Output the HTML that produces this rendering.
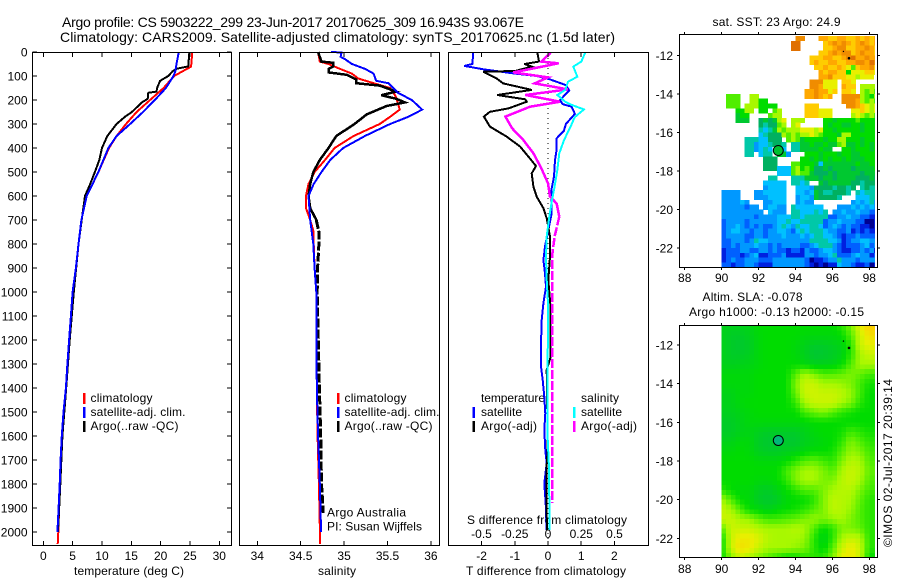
<!DOCTYPE html>
<html>
<head>
<meta charset="utf-8">
<title>Argo profile</title>
<style>
html,body{margin:0;padding:0;background:#fff;}
svg{display:block;}
text{font-family:"Liberation Sans",sans-serif;font-size:12px;fill:#000;}
.t{font-size:14px;}
</style>
</head>
<body>
<svg id="chart" width="900" height="580" viewBox="0 0 900 580" xmlns="http://www.w3.org/2000/svg">
<defs>
<clipPath id="clipA"><rect x="680" y="34" width="195" height="233"/></clipPath>
<clipPath id="clipB"><rect x="680" y="325" width="195" height="232"/></clipPath>
</defs>
<rect x="0" y="0" width="900" height="580" fill="#fff"/>
<text class="t" x="62" y="27" textLength="462" lengthAdjust="spacing">Argo profile: CS 5903222_299 23-Jun-2017 20170625_309 16.943S 93.067E</text>
<text class="t" x="60" y="42" textLength="555" lengthAdjust="spacing">Climatology: CARS2009. Satellite-adjusted climatology: synTS_20170625.nc (1.5d later)</text>

<text x="74" y="575" textLength="110" lengthAdjust="spacing">temperature (deg C)</text>
<text x="318" y="575" textLength="38" lengthAdjust="spacing">salinity</text>
<text x="466" y="575" textLength="160" lengthAdjust="spacing">T difference from climatology</text>
<text x="467" y="524" textLength="160" lengthAdjust="spacing">S difference from climatology</text>

<g>
<rect x="83" y="393" width="2.5" height="11" fill="#f00"/>
<rect x="83" y="407" width="2.5" height="11" fill="#00f"/>
<rect x="83" y="421" width="2.5" height="11" fill="#000"/>
<text x="90.5" y="402" textLength="62" lengthAdjust="spacing">climatology</text>
<text x="90.5" y="416" textLength="95" lengthAdjust="spacing">satellite-adj. clim.</text>
<text x="90.5" y="430" textLength="88" lengthAdjust="spacing">Argo(..raw -QC)</text>
</g>
<g>
<rect x="337" y="393" width="2.5" height="11" fill="#f00"/>
<rect x="337" y="407" width="2.5" height="11" fill="#00f"/>
<rect x="337" y="421" width="2.5" height="11" fill="#000"/>
<text x="344.5" y="402" textLength="62" lengthAdjust="spacing">climatology</text>
<text x="344.5" y="416" textLength="95" lengthAdjust="spacing">satellite-adj. clim.</text>
<text x="344.5" y="430" textLength="88" lengthAdjust="spacing">Argo(..raw -QC)</text>
</g>
<g>
<rect x="472.5" y="407" width="2.5" height="11" fill="#00f"/>
<rect x="472.5" y="421" width="2.5" height="11" fill="#000"/>
<rect x="573" y="407" width="2.5" height="11" fill="#0ff"/>
<rect x="573" y="421" width="2.5" height="11" fill="#f0f"/>
<text x="481" y="402" textLength="64" lengthAdjust="spacing">temperature</text>
<text x="481" y="416" textLength="41" lengthAdjust="spacing">satellite</text>
<text x="481" y="430" textLength="56" lengthAdjust="spacing">Argo(-adj)</text>
<text x="581" y="402" textLength="38" lengthAdjust="spacing">salinity</text>
<text x="581" y="416" textLength="41" lengthAdjust="spacing">satellite</text>
<text x="581" y="430" textLength="56" lengthAdjust="spacing">Argo(-adj)</text>
</g>

<text x="712.5" y="26" textLength="128" lengthAdjust="spacing">sat. SST: 23 Argo: 24.9</text>
<text x="702.5" y="301" textLength="100" lengthAdjust="spacing">Altim. SLA: -0.078</text>
<text x="689" y="316" textLength="175" lengthAdjust="spacing">Argo h1000: -0.13 h2000: -0.15</text>
<text transform="translate(892,547) rotate(-90)" x="0" y="0" textLength="168" lengthAdjust="spacing">©IMOS 02-Jul-2017 20:39:14</text>
<g id="layer"></g>
<text x="327" y="516.5" fill="#000" textLength="79" lengthAdjust="spacing">Argo Australia</text>
<text x="327" y="530.5" fill="#000" textLength="95" lengthAdjust="spacing">PI: Susan Wijffels</text>
</svg>
<script>
const _ = null;

// Tick labels
const depthTicks = [0,100,200,300,400,500,600,700,800,900,1000,1100,1200,1300,1400,1500,1600,1700,1800,1900,2000];
const tempTicks = [0,5,10,15,20,25,30];
const salTicks = [34,34.5,35,35.5,36];
const tDiffTicks = [-2,-1,0,1,2];
const sDiffTicks = [-0.5,-0.25,0,0.25,0.5];
const lonTicks = [88,90,92,94,96,98];
const latTicks = [-12,-14,-16,-18,-20,-22];

// Temperature profiles
const climTempDepth = [0,61,100,150,200,250,300,350,400,500,600,700,800,900,1000,1100,1200,1300,1400,1500,1600,1700,1800,1900,2000,2050];
const climTemp = [25.4,25.2,22.3,20.5,18.2,15.9,14.1,12.5,11.2,9.4,7.4,6.5,6.0,5.6,5.1,4.8,4.5,4.2,3.87,3.5,3.2,3.0,2.85,2.7,2.55,2.45];
const satTempDepth = [0,50,80,100,150,200,250,300,350,400,500,600,700,800,900,1000,1100,1200,1300,1400,1500,1600,1700,1800,1900,2000];
const satTemp = [23.1,22.7,22.5,22.2,20.9,19.0,17.0,14.8,12.5,11.1,9.4,7.4,6.5,6.0,5.55,5.0,4.7,4.4,4.1,3.85,3.45,3.15,2.95,2.8,2.6,2.4];
const argoTempDepth = [0,30,60,70,80,100,120,150,165,170,195,210,250,270,300,350,400,450,500,550,600,700,800,1000,1200,1400,1600,1800,2000];
const argoTemp = [24.9,24.8,24.7,22.7,22.05,21.3,19.9,19.4,19.3,17.9,17.8,16.8,15.1,13.9,12.5,10.9,10.0,9.55,8.8,8.0,7.1,6.55,6.0,5.2,4.5,3.9,3.25,2.9,2.5];

// Salinity profiles
const climSalDepth = [0,40,50,70,90,110,130,150,170,190,240,270,300,350,400,450,500,550,600,650,700,750,800,900,1000,1400,1600,1800,2050];
const climSal = [34.70,34.72,34.82,34.95,35.09,35.16,35.34,35.53,35.57,35.60,35.64,35.53,35.41,35.11,34.89,34.78,34.66,34.59,34.56,34.56,34.61,34.65,34.65,34.66,34.68,34.685,34.695,34.71,34.725];
const satSalDepth = [0,2,20,30,50,70,90,120,130,170,200,240,270,300,350,400,450,500,550,600,700,800,900,1000,1400,1600,1800,2000];
const satSal = [34.85,34.97,34.96,35.01,35.09,35.24,35.34,35.37,35.51,35.62,35.78,35.90,35.74,35.53,35.24,34.99,34.84,34.74,34.65,34.59,34.61,34.645,34.66,34.68,34.685,34.70,34.72,34.735];
const argoSalDepth = [0,20,40,45,60,70,85,95,115,130,140,165,180,195,210,225,260,300,350,400,450,500,550,600,650,700,750,800,900,1000,1400,1600,1800,1920];
const argoSal = [34.70,34.72,34.74,34.875,34.875,34.82,34.82,35.03,35.14,35.14,35.41,35.60,35.43,35.60,35.70,35.49,35.26,35.12,34.91,34.82,34.72,34.645,34.61,34.59,34.61,34.68,34.71,34.71,34.695,34.69,34.715,34.73,34.74,34.76];

// Difference profiles
const satTDiffDepth = [3,50,58,72,89,100,114,138,161,200,217,228,258,300,328,360,408,450,519,568,617,672,742,811,867,922,978,1047,1117,1214,1311,1367,1436,1506,1575,1658,1714,1797,1881,1992];
const satTDiff = [-2.25,-2.28,-2.52,-1.95,-1.04,-0.34,0.06,0.54,0.64,0.36,0.44,0.71,0.81,0.54,0.48,0.26,0.26,0.21,0.18,0.11,0.11,0.11,0.01,-0.09,-0.14,-0.09,-0.06,-0.14,-0.19,-0.21,-0.21,-0.16,-0.11,-0.08,-0.11,-0.08,-0.04,-0.11,-0.07,-0.04];
const argoTDiffDepth = [3,40,50,61,79,82,110,131,158,179,197,207,235,249,269,311,353,394,436,475,506,561,603,651,693,769,853,950,1050,1270,1325,1500,1658,1742,1839,1992];
const argoTDiff = [-0.32,-0.27,-0.71,-0.49,-0.99,-1.95,-1.55,-1.35,-0.49,-1.53,-0.69,-0.64,-1.19,-1.75,-1.93,-1.75,-1.24,-0.84,-0.59,-0.36,-0.49,-0.44,-0.34,-0.14,-0.04,0.06,0.06,0.01,0.07,0.08,-0.04,-0.02,-0.01,-0.05,-0.05,-0.03];
const satSDiffDepth = [3,40,61,103,124,158,179,207,221,239,272,311,367,422,492,561,617,686,769,853,950,1047,1186,1325,1464,1603,1742,1881,1992];
const satSDiff = [0.28,0.25,0.19,0.22,0.15,0.13,0.07,0.13,0.18,0.27,0.20,0.17,0.12,0.085,0.07,0.05,0.03,0.01,-0.01,-0.015,-0.01,0,0,-0.005,-0.005,-0.003,0.008,0.01,0.01];
const argoSDiffDepth = [3,40,47,85,106,131,156,179,207,228,269,318,367,422,485,547,603,631,686,769,853,943,1047,1400,1800,1880];
const argoSDiff = [0.02,-0.05,0.08,-0.26,0,-0.10,0.15,-0.17,0.09,-0.135,-0.32,-0.27,-0.185,-0.11,-0.05,0,0.015,0.065,0.085,0.05,0.03,0.03,0.03,0.03,0.03,0.03];

// Float track positions
const trackLon = [96.9,96.6];
const trackLat = [-12.15,-11.8];
const profileLon = [93.07];
const profileLat = [-16.94];

// SST colour levels, 0.25 degree cells, from lat -11 southwards, lon 90 eastwards
const sstLevels = [
[_,_,_,_,_,_,_,_,_,_,_,_,_,_,_,_,14,14,_,_,_,13,13,12,12,13,13,12,12,13,12,13,12,13],
[_,_,_,_,_,_,_,_,_,_,_,_,_,_,_,15,15,_,_,_,_,_,12,13,14,13,14,13,12,13,14,13,12,13],
[_,_,_,_,_,_,_,_,_,_,_,_,_,_,_,15,15,_,_,_,_,_,12,12,13,14,14,12,12,13,13,14,13,12],
[_,_,_,_,_,_,_,_,_,_,_,_,_,_,_,_,_,_,_,_,_,12,12,13,14,13,14,14,12,13,14,13,13,12],
[_,_,_,_,_,_,_,_,_,_,_,_,_,_,_,_,_,_,_,12,12,12,13,13,12,12,13,14,15,13,13,14,13,13],
[_,_,_,_,_,_,_,_,_,_,_,_,_,_,_,_,_,_,_,12,13,12,12,13,13,12,12,13,13,14,14,13,15,14],
[_,_,_,_,_,_,_,_,_,_,_,_,_,_,_,_,_,_,_,_,12,12,13,12,12,13,12,11,9,12,13,13,14,12],
[_,_,_,_,_,_,_,_,_,_,_,_,_,_,_,_,_,_,_,_,_,13,12,13,13,12,12,8,11,11,11,12,12,11],
[_,_,_,_,_,_,_,_,_,_,_,_,_,_,_,_,_,_,_,_,_,13,13,14,12,12,12,11,11,10,11,11,11,_],
[_,_,_,_,_,_,_,_,_,_,_,_,_,_,_,_,_,_,_,14,14,14,11,11,11,_,12,12,11,_,_,_,_,_],
[_,_,_,_,_,_,_,_,_,_,_,_,_,_,_,_,_,_,_,14,14,13,11,11,11,_,13,12,12,_,10,10,10,10],
[_,_,_,_,_,_,_,_,_,_,_,_,_,_,_,_,_,_,13,13,14,13,13,11,12,_,12,12,11,_,10,9,10,9],
[_,9,9,9,_,_,10,10,_,_,_,_,_,_,_,_,_,_,13,13,14,13,12,13,_,_,14,14,14,14,10,9,8,10],
[_,9,9,9,_,_,10,10,8,8,_,_,_,_,_,_,_,_,_,_,_,_,_,_,_,_,14,14,14,13,10,9,10,9],
[_,9,9,9,_,10,10,10,8,8,8,8,_,_,_,_,_,_,12,12,12,_,_,_,_,_,_,14,14,13,12,11,10,11],
[_,_,_,8,8,10,10,_,8,8,_,9,10,_,_,_,_,_,12,12,12,11,11,11,_,_,_,_,11,11,12,11,10,11],
[_,_,_,7,8,8,_,_,_,_,9,10,10,_,_,_,_,_,12,12,12,11,11,11,_,_,_,_,10,11,10,9,10,9],
[_,_,_,7,7,7,_,_,6,7,6,7,10,11,_,10,10,10,_,_,_,_,8,8,7,8,8,8,8,9,8,8,8,8],
[_,_,_,_,_,_,_,_,6,5,6,6,9,10,_,10,11,_,_,_,_,_,8,7,8,8,7,7,8,8,7,8,8,8],
[_,_,_,_,_,_,_,_,5,4,5,7,10,9,10,10,10,11,11,11,10,11,8,8,7,8,8,8,8,8,7,8,8,8],
[_,_,_,_,_,_,_,_,4,5,6,6,6,10,9,10,9,10,10,11,10,9,8,8,8,7,10,10,8,8,8,8,8,8],
[_,_,_,_,_,5,5,5,4,4,6,6,6,_,9,10,9,7,8,8,8,8,7,8,8,10,10,8,8,8,7,8,8,8],
[_,_,_,_,_,5,5,3,4,4,5,6,6,5,_,5,5,7,7,8,7,7,8,7,7,9,10,7,7,8,7,8,7,8],
[_,_,_,_,_,5,5,3,4,5,4,_,4,4,_,5,5,7,7,7,7,8,7,7,_,_,8,8,7,8,8,8,7,8],
[_,_,_,_,_,5,5,_,4,5,5,_,7,7,3,_,_,_,8,8,8,7,8,8,8,7,8,8,7,7,8,8,8,8],
[_,_,_,_,_,_,_,_,_,6,6,6,_,_,_,_,_,8,8,7,8,7,8,7,8,8,7,8,7,7,7,8,8,8],
[_,_,_,_,_,_,_,_,_,6,6,6,_,_,_,9,9,8,8,8,7,4,7,7,7,7,7,7,7,8,7,7,8,8],
[_,_,_,_,_,_,_,_,_,6,6,6,4,4,4,9,10,8,9,8,6,6,7,6,7,7,7,7,6,7,7,7,7,8],
[_,_,_,_,_,_,_,_,_,_,_,_,4,4,4,9,10,9,9,7,6,6,6,7,6,7,7,7,7,7,6,7,7,7],
[_,_,_,_,_,_,_,_,_,_,5,5,_,_,_,5,5,5,7,7,7,6,7,7,6,7,7,7,7,6,6,6,7,6],
[_,_,_,_,_,_,_,_,_,4,4,4,4,4,_,5,5,4,5,_,_,7,6,7,7,7,7,7,6,6,5,6,6,6],
[_,_,_,_,_,_,_,_,_,3,4,4,4,4,_,_,4,4,4,3,6,6,6,6,5,6,6,5,6,_,5,6,5,5],
[3,3,3,3,_,_,_,3,3,4,4,4,4,4,_,_,4,4,3,4,7,6,5,5,6,6,6,5,_,5,4,5,5,5],
[3,3,3,3,_,_,_,3,3,3,4,4,4,4,_,_,3,4,4,3,7,6,6,6,6,5,_,_,_,4,4,4,5,5],
[3,3,3,3,4,3,_,_,_,3,3,4,4,4,_,_,3,4,3,3,_,_,_,_,_,_,_,_,3,4,3,4,5,3],
[3,3,3,3,3,2,3,3,_,3,4,4,3,3,_,5,4,4,4,4,4,4,_,_,_,3,3,3,4,3,4,3,4,3],
[3,3,3,3,3,3,3,3,3,_,4,3,3,3,_,5,5,4,4,4,5,4,5,_,3,3,4,3,3,4,3,3,2,2],
[3,3,3,3,3,3,3,2,3,3,3,3,4,4,4,5,5,4,5,5,5,5,5,2,2,3,3,4,3,3,2,2,1,1],
[2,3,3,3,3,2,3,3,3,3,3,3,4,4,5,4,4,5,5,5,5,5,2,3,3,4,3,3,3,2,2,0,0,1],
[2,3,3,4,3,2,3,2,3,2,2,3,4,5,4,3,5,4,4,5,5,4,2,3,4,3,2,3,2,2,1,1,0,1],
[2,3,4,4,3,3,2,3,3,2,3,3,4,4,3,2,4,5,4,5,5,5,4,3,3,2,2,3,1,2,1,2,1,1],
[2,3,3,3,3,2,2,3,3,2,3,3,3,4,3,3,3,4,3,4,5,5,4,4,3,2,1,2,2,3,2,2,2,2],
[2,2,3,3,3,2,3,5,4,4,3,3,3,3,3,3,3,3,3,5,5,5,5,4,4,3,1,2,3,3,4,4,3,3],
[2,2,3,2,3,3,3,4,3,3,2,3,2,3,3,3,3,2,2,3,4,5,5,5,3,2,1,2,2,2,3,4,2,3],
[1,2,2,2,3,3,2,2,3,3,2,3,2,2,1,2,2,1,3,2,2,3,4,4,3,2,1,1,2,2,3,2,3,1],
[1,2,2,2,1,2,3,4,1,1,2,2,2,3,1,1,1,1,3,3,2,3,3,4,5,2,2,2,3,4,3,3,1,2],
[1,2,3,2,2,3,3,3,2,2,2,3,3,3,3,3,3,3,2,0,1,1,2,3,3,5,3,3,3,2,3,3,3,3],
[2,2,1,2,2,3,3,2,1,1,1,3,3,3,3,3,3,3,2,1,0,1,0,1,1,4,3,3,2,1,1,2,0,1]
];

// SLA colour levels, 0.5 degree nodes, lat -11 to -23, lon 90 to 98
const slaLevels = [
[7.5,7.5,7.5,7.5,8,8,8,8,8,8,8,8,8,8.5,9.5,11,12],
[7.5,7.2,7.2,7.5,7.8,8,8,8,8,7.8,7.8,7.8,7.8,8,9,10.5,11.5],
[7.5,7.2,7,7.2,7.8,8,8,8,7.8,7.5,7.2,7.2,7.4,7.6,8.5,10.5,11],
[7.5,7.2,7.2,7.4,7.8,8,8,8,7.8,7.4,6.9,7,7.2,7.5,8.5,10,10.5],
[7.5,7.4,7.5,7.6,7.8,8,8,8,8,7.8,7.5,7.5,7.6,8,9,10,10],
[7.8,7.8,7.8,7.8,8,8,8,8,9,10,9.5,9,9,9.2,9.5,9.2,8.8],
[7.8,7.8,7.8,7.8,8,8,8,8,9.5,10.5,10.5,10,10,9.8,9.5,8.8,8.2],
[7.5,7.5,7.8,7.8,8,8,8,8,9.2,10.5,10.6,10.5,10.5,10.3,9.8,8.8,8],
[7.5,7.5,7.8,8,8,8,8,8,8.6,10,10.5,10.5,10.5,10,9.5,8.5,8],
[7.4,7.4,7.6,7.8,8,8,8,8,8,8.8,9.2,9.5,9,8.5,8.2,8,8],
[7.2,7.2,7.5,7.8,7.8,7.8,7.8,7.8,7.8,7.8,8,8,8,8,8,8,8],
[7.2,7.2,7.5,7.6,7.4,7.2,7.2,7.2,7.2,7.5,7.8,8,8,8.2,8.8,8.5,8.2],
[7.5,7.5,7.8,7.8,7.2,7,7,7,7,7.4,7.6,7.8,8,8.5,9.5,9,8.5],
[7.8,7.8,8,7.8,7.4,7.2,7.2,7.4,7.5,7.8,8,8,8.2,9,9.8,9.5,8.8],
[8,8,8,8,7.8,7.8,7.8,8,8.5,9,9.2,8.8,8.5,9.5,10.2,10,9],
[8,8,8,8,8,8,8,8.8,9.5,10,10,9.5,9,10,10.5,10.2,9.2],
[8,8,8,8,7.8,7.8,8,8.5,9.5,10,10,9.5,9.5,10.2,10.5,10,9],
[8.5,8,7.8,7.8,7.4,7.2,7.6,8,8.5,9,9,9.5,10,10.2,10.2,9.5,8.8],
[10,9,8,7.8,7.2,7,7.2,7.8,8,8,8.5,9.5,10.3,10.2,10,9.2,8.5],
[10.5,10,9,8,7.8,7.5,7.8,8,8.2,8.5,9,9.5,10.3,10.2,9.8,9,8.5],
[10.5,10.5,10,9.8,9.2,8.8,8.8,9,9.2,9.5,9.8,9.5,9.8,10,9.5,9,8.5],
[9,10.5,10.5,10.5,10.2,10,10,10,10.2,10,9,8,8.5,9.5,9.5,9.2,8.5],
[8,10.5,11.2,11.2,10.8,10.2,10,10,10,9.8,8.5,7.5,8.5,10,10.5,10.2,8.5],
[8,10.5,11.5,11.2,10.5,10,10,10,9.8,9.5,8.5,7.8,9,10.5,11.2,10.5,8.5],
[8,9.5,10.5,10,9.5,9,8.5,8,8,8.5,8.5,8.5,9.5,11,11.2,10.5,8]
];

const NS = 'http://www.w3.org/2000/svg';
const layer = document.getElementById('layer');

function mk(tag, parent, name) {
  const el = document.createElementNS(NS, tag);
  
  
  parent.appendChild(el);
  return el;
}

// Axis functions
const yDepth = d => 52 + d * 0.24;
const xTemp = v => 43.3 + v * 5.867;
const xSal = v => 257.3 + (v - 34) * 86.8;
const xTDiff = v => 548 + v * 33.2;
const xSDiff = v => 548 + v * 133;
const xLon = v => 684.7 + (v - 88) * 18.46;
const yLatA = v => 55.3 + (-12 - v) * 19.27;
const yLatB = v => 345 + (-12 - v) * 19.33;

function seg(g, x1, y1, x2, y2, name) {
  const l = mk('line', g, name);
  l.setAttribute('x1', x1);
  l.setAttribute('y1', y1);
  l.setAttribute('x2', x2);
  l.setAttribute('y2', y2);
  l.setAttribute('stroke', '#000');
  l.setAttribute('stroke-width', '1');
  l.setAttribute('shape-rendering', 'crispEdges');
}

function label(g, x, y, txt, anchor, name) {
  const t = mk('text', g, name);
  t.setAttribute('x', x);
  t.setAttribute('y', y);
  t.setAttribute('text-anchor', anchor);
  t.textContent = txt;
}

function frame(g, x, y, w, h, name) {
  const r = mk('rect', g, name);
  r.setAttribute('x', x);
  r.setAttribute('y', y);
  r.setAttribute('width', w);
  r.setAttribute('height', h);
  r.setAttribute('fill', 'none');
  r.setAttribute('stroke', '#000');
  r.setAttribute('stroke-width', '1');
  r.setAttribute('shape-rendering', 'crispEdges');
}

function profile(g, depths, vals, xf, color, width, name, minD, maxD, dash) {
  const pts = [];
  depths.forEach((d, i) => {
    if (d >= minD && d <= maxD) pts.push(xf(vals[i]).toFixed(1) + ',' + yDepth(d).toFixed(1));
  });
  const p = mk('polyline', g, name);
  p.setAttribute('points', pts.join(' '));
  p.setAttribute('fill', 'none');
  p.setAttribute('stroke', color);
  p.setAttribute('stroke-width', width);
  p.setAttribute('stroke-linejoin', 'miter');
  p.setAttribute('shape-rendering', 'crispEdges');
  if (dash) p.setAttribute('stroke-dasharray', dash);
}

// Temperature panel
const pT = mk('g', layer, 'temperature-panel');
profile(pT, climTempDepth, climTemp, xTemp, '#f00', 2, 'temperature-climatology-line', 0, 9999);
profile(pT, argoTempDepth, argoTemp, xTemp, '#000', 2, 'temperature-argo-line', 0, 9999);
profile(pT, satTempDepth, satTemp, xTemp, '#00f', 2, 'temperature-satellite-line', 0, 9999);
frame(pT, 32.5, 52.5, 199, 493, 'temperature-plot-frame');
depthTicks.forEach(d => {
  seg(pT, 32.5, yDepth(d), 37, yDepth(d), 'depth-tick-left');
  seg(pT, 227, yDepth(d), 231.5, yDepth(d), 'depth-tick-right');
  label(pT, 27.5, yDepth(d) + 4.5, String(d), 'end', 'depth-tick-label');
});
tempTicks.forEach(v => {
  seg(pT, xTemp(v), 52.5, xTemp(v), 57, 'temperature-tick-top');
  seg(pT, xTemp(v), 541, xTemp(v), 545.5, 'temperature-tick-bottom');
  label(pT, xTemp(v), 560, String(v), 'middle', 'temperature-tick-label');
});

// Salinity panel
const pS = mk('g', layer, 'salinity-panel');
profile(pS, climSalDepth, climSal, xSal, '#f00', 2, 'salinity-climatology-line', 0, 9999);
profile(pS, argoSalDepth, argoSal, xSal, '#000', 2.5, 'salinity-argo-line', 0, 700);
profile(pS, argoSalDepth, argoSal, xSal, '#000', 3, 'salinity-argo-deep-line', 700, 9999, '9,2');
profile(pS, satSalDepth, satSal, xSal, '#00f', 2, 'salinity-satellite-line', 0, 9999);
profile(pS, climSalDepth, climSal, xSal, '#f00', 2.5, 'salinity-climatology-deep-line', 1950, 9999);
frame(pS, 239.5, 52.5, 200, 493, 'salinity-plot-frame');
salTicks.forEach(v => {
  seg(pS, xSal(v), 52.5, xSal(v), 57, 'salinity-tick-top');
  seg(pS, xSal(v), 541, xSal(v), 545.5, 'salinity-tick-bottom');
  label(pS, xSal(v), 560, String(v), 'middle', 'salinity-tick-label');
});

// Difference panel
const pD = mk('g', layer, 'difference-panel');
const zero = mk('line', pD, 'zero-difference-line');
zero.setAttribute('x1', xTDiff(0));
zero.setAttribute('y1', 53);
zero.setAttribute('x2', xTDiff(0));
zero.setAttribute('y2', 545);
zero.setAttribute('stroke', '#000');
zero.setAttribute('stroke-width', '1');
zero.setAttribute('stroke-dasharray', '1,4');
zero.setAttribute('shape-rendering', 'crispEdges');
profile(pD, satTDiffDepth, satTDiff, xTDiff, '#00f', 2, 't-difference-satellite-line', 0, 9999);
profile(pD, argoTDiffDepth, argoTDiff, xTDiff, '#000', 2, 't-difference-argo-line', 0, 9999);
profile(pD, argoSDiffDepth, argoSDiff, xSDiff, '#f0f', 2.5, 's-difference-argo-line', 0, 700);
profile(pD, argoSDiffDepth, argoSDiff, xSDiff, '#f0f', 2.5, 's-difference-argo-deep-line', 686, 9999, '9,2');
profile(pD, satSDiffDepth, satSDiff, xSDiff, '#0ff', 2, 's-difference-satellite-line', 0, 9999);
frame(pD, 448.5, 52.5, 200, 493, 'difference-plot-frame');
tDiffTicks.forEach(v => {
  seg(pD, xTDiff(v), 52.5, xTDiff(v), 57, 't-difference-tick-top');
  seg(pD, xTDiff(v), 541, xTDiff(v), 545.5, 't-difference-tick-bottom');
  label(pD, xTDiff(v), 560, String(v), 'middle', 't-difference-tick-label');
});
sDiffTicks.forEach(v => {
  label(pD, xSDiff(v), 538, String(v), 'middle', 's-difference-tick-label');
});

// Colour scale for map levels
const stops = ['#000090','#0020e0','#0060ff','#0098ff','#00c0ff','#00c8a8','#00b060','#00c830','#00dc00','#50ee00','#a8f800','#e8f000','#ffcc00','#ffa800','#f08c00','#e07000'];
function levelColor(v) {
  const q = Math.max(0, Math.min(15, v));
  const i = Math.min(14, Math.floor(q));
  const f = q - i;
  const a = stops[i], b = stops[i + 1];
  const c = [1, 3, 5].map(k => {
    const p = parseInt(a.substr(k, 2), 16), r = parseInt(b.substr(k, 2), 16);
    return Math.round(p + (r - p) * f);
  });
  return 'rgb(' + c.join(',') + ')';
}

function cell(g, lon, lat, yf, color, name) {
  const x0 = xLon(lon), x1 = xLon(lon + 0.25);
  const y0 = yf(lat), y1 = yf(lat - 0.25);
  const r = mk('rect', g, name);
  r.setAttribute('x', x0.toFixed(2));
  r.setAttribute('y', y0.toFixed(2));
  r.setAttribute('width', (x1 - x0 + 0.3).toFixed(2));
  r.setAttribute('height', (y1 - y0 + 0.3).toFixed(2));
  r.setAttribute('fill', color);
}

function mapAxes(g, top, bottom, yf, labelY, prefix) {
  frame(g, 679.5, top + 0.5, 198, bottom - top, prefix + '-map-frame');
  lonTicks.forEach(v => {
    seg(g, xLon(v), top - 2, xLon(v), top + 0.5, prefix + '-lon-tick-top');
    seg(g, xLon(v), bottom + 0.5, xLon(v), bottom + 3, prefix + '-lon-tick-bottom');
    label(g, xLon(v), labelY, String(v), 'middle', prefix + '-lon-tick-label');
  });
  latTicks.forEach(v => {
    seg(g, 677, yf(v), 679.5, yf(v), prefix + '-lat-tick-left');
    seg(g, 877.5, yf(v), 880, yf(v), prefix + '-lat-tick-right');
    label(g, 673, yf(v) + 4.5, String(v), 'end', prefix + '-lat-tick-label');
  });
}

function marks(g, yf, fill, prefix) {
  trackLon.forEach((lon, i) => {
    const d = mk('circle', g, prefix + '-track-point');
    d.setAttribute('cx', xLon(lon));
    d.setAttribute('cy', yf(trackLat[i]));
    d.setAttribute('r', i === 0 ? 1.3 : 0.7);
    d.setAttribute('fill', '#000');
  });
  const c = mk('circle', g, prefix + '-profile-marker');
  c.setAttribute('cx', xLon(profileLon[0]));
  c.setAttribute('cy', yf(profileLat[0]));
  c.setAttribute('r', 5);
  c.setAttribute('fill', fill);
  c.setAttribute('stroke', '#000');
  c.setAttribute('stroke-width', '1');
}

// SST map
const mA = mk('g', layer, 'sst-map');
const cellsA = mk('g', mA, 'sst-heatmap');
cellsA.setAttribute('clip-path', 'url(#clipA)');
cellsA.setAttribute('shape-rendering', 'crispEdges');
sstLevels.forEach((row, r) => {
  row.forEach((v, c) => {
    if (v === null) return;
    cell(cellsA, 90 + c * 0.25, -11 - r * 0.25, yLatA, levelColor(v), 'sst-cell');
  });
});
mapAxes(mA, 34, 267, yLatA, 282, 'sst');
marks(mA, yLatA, '#00c030', 'sst');

// SLA map
function slaAt(lon, lat) {
  const fx = Math.max(0, Math.min(15.999, (lon - 90) / 0.5));
  const fy = Math.max(0, Math.min(23.999, (-11 - lat) / 0.5));
  const i = Math.floor(fx), j = Math.floor(fy);
  const a = fx - i, b = fy - j;
  return (slaLevels[j][i] * (1 - a) + slaLevels[j][i + 1] * a) * (1 - b) +
         (slaLevels[j + 1][i] * (1 - a) + slaLevels[j + 1][i + 1] * a) * b;
}
const mB = mk('g', layer, 'sla-map');
const cellsB = mk('g', mB, 'sla-heatmap');
cellsB.setAttribute('clip-path', 'url(#clipB)');
cellsB.setAttribute('shape-rendering', 'crispEdges');
for (let r = 0; r < 48; r++) {
  for (let c = 0; c < 34; c++) {
    const lon = 90 + c * 0.25, lat = -11 - r * 0.25;
    cell(cellsB, lon, lat, yLatB, levelColor(slaAt(lon + 0.125, lat - 0.125)), 'sla-cell');
  }
}
mapAxes(mB, 325, 557, yLatB, 573, 'sla');
marks(mB, yLatB, '#00b878', 'sla');
</script>
</body>
</html>
